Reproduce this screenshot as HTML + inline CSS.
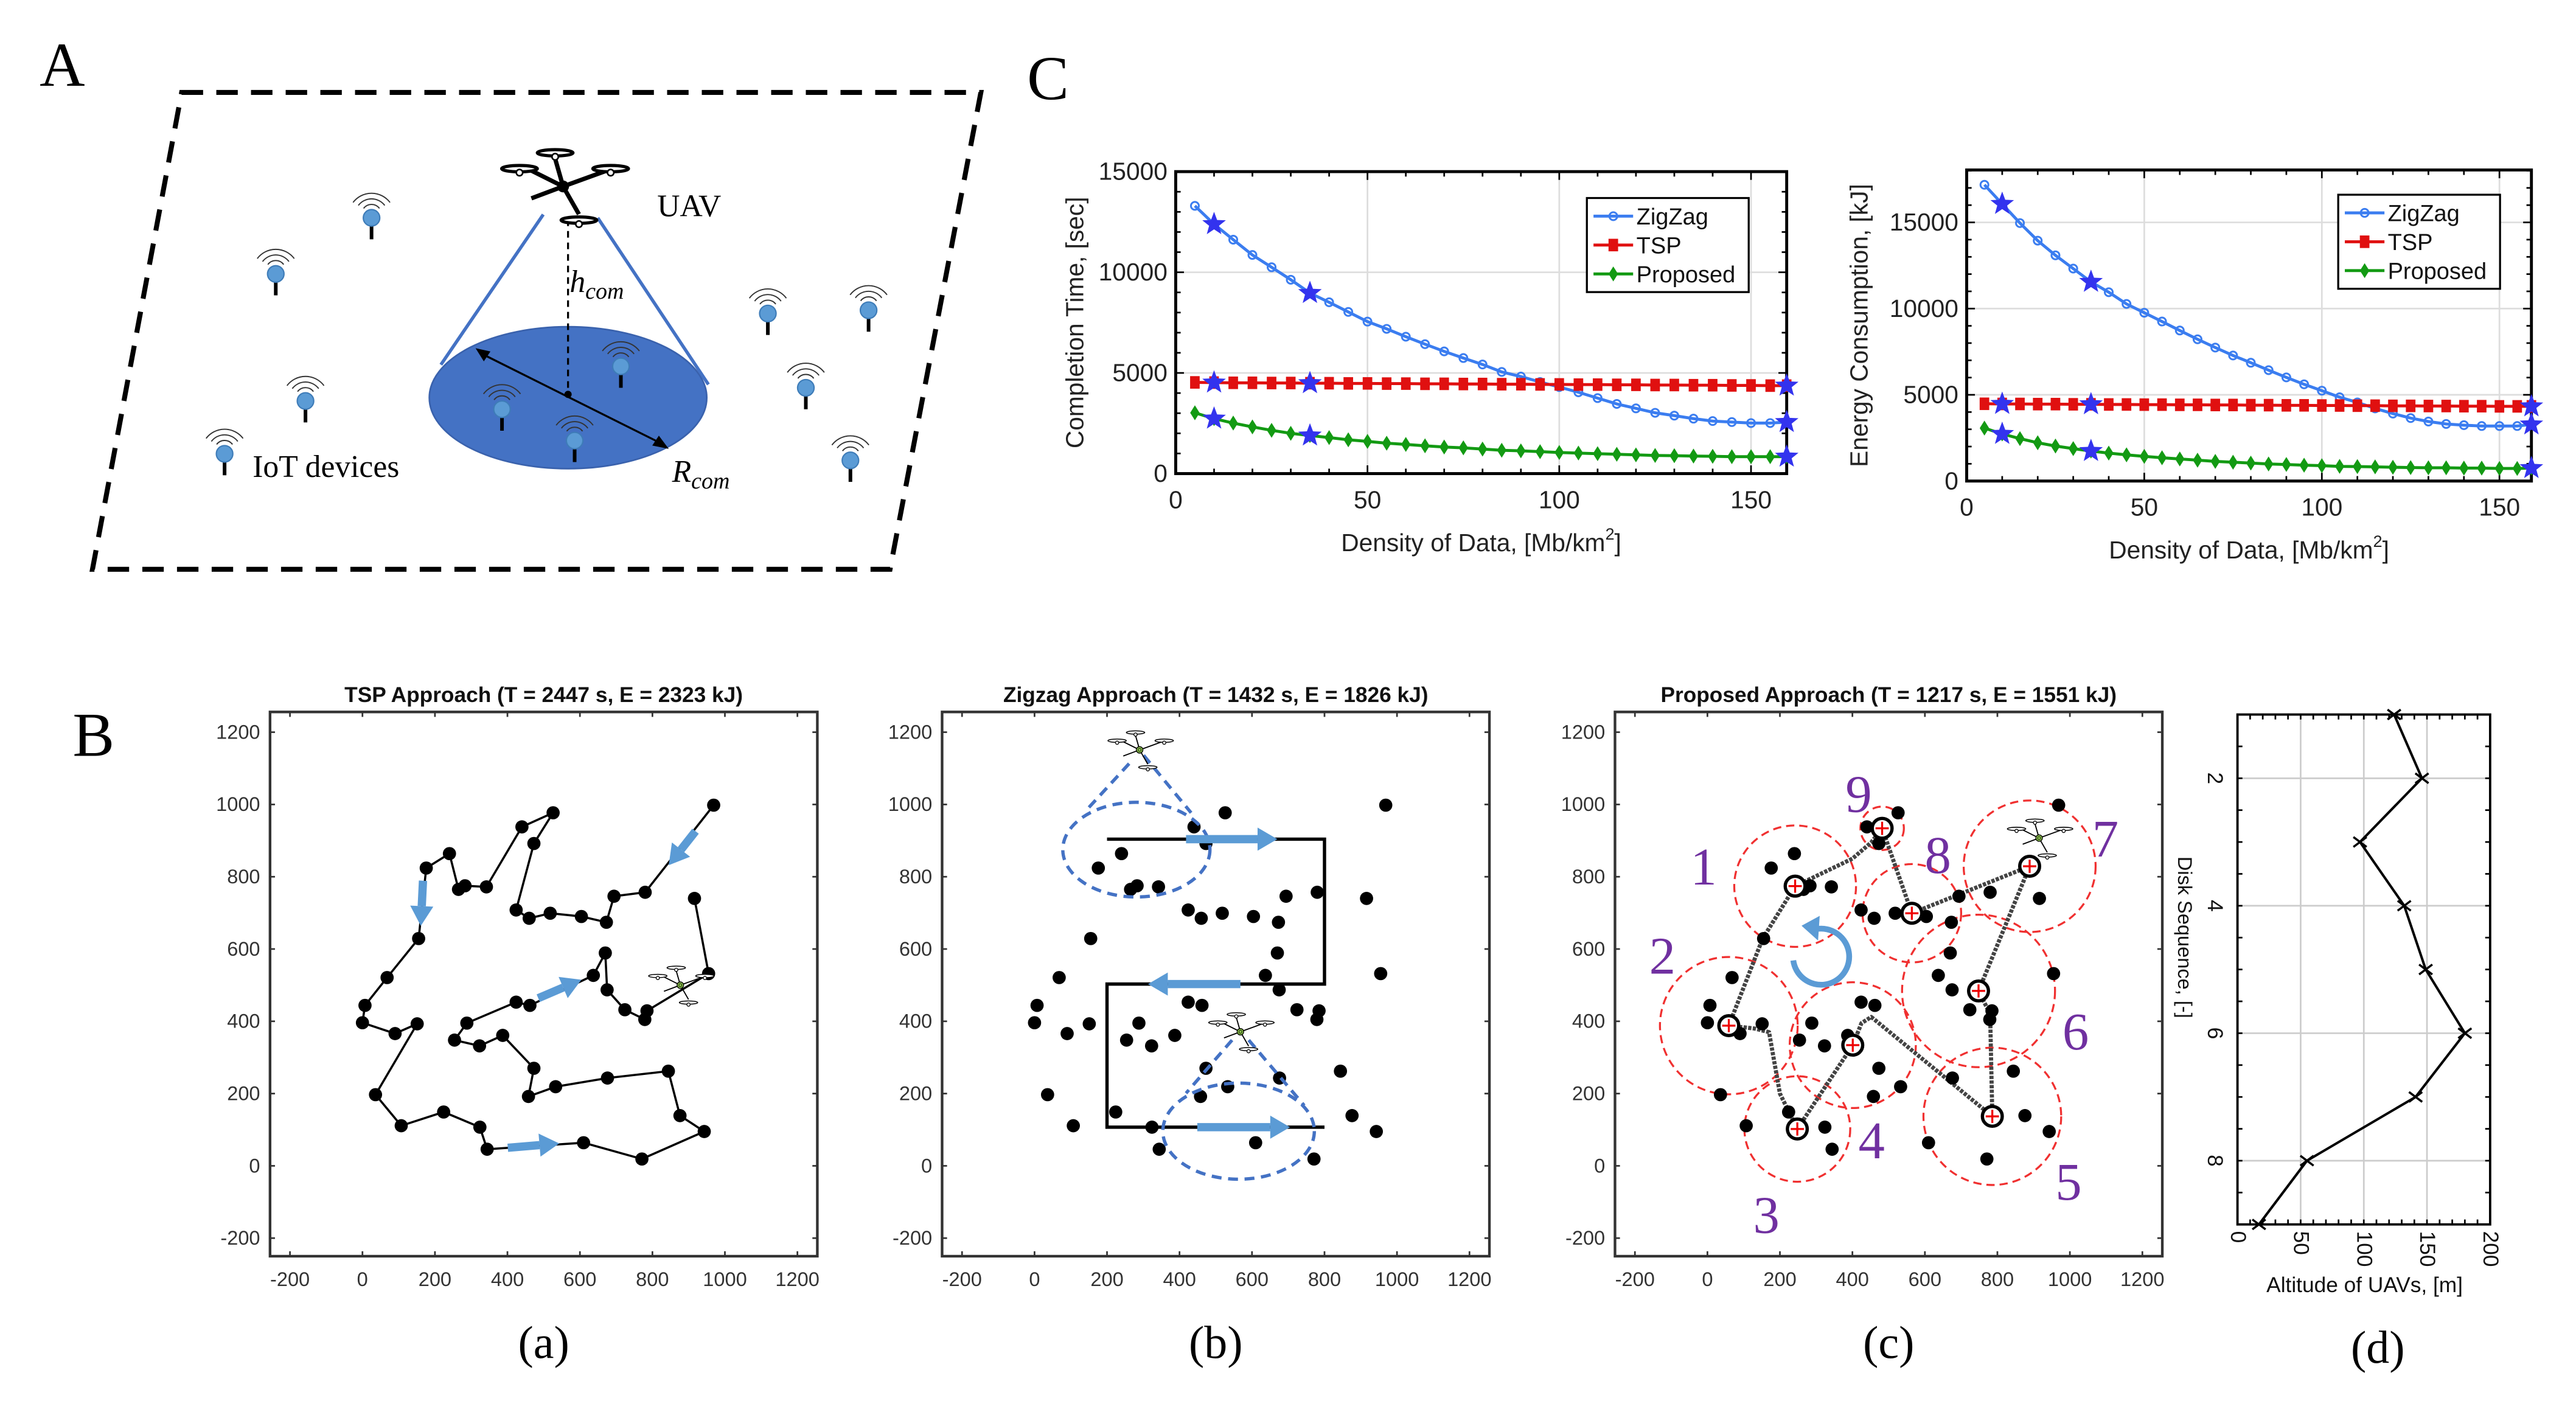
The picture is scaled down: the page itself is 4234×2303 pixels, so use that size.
<!DOCTYPE html>
<html><head><meta charset="utf-8"><style>
html,body{margin:0;padding:0;background:#fff;}
svg{display:block;}
text{font-family:"Liberation Sans",Arial,sans-serif;}
.serif{font-family:"Liberation Serif","Times New Roman",serif;}
</style></head><body>
<svg id="fig" xmlns="http://www.w3.org/2000/svg" width="4234" height="2303" viewBox="0 0 1560 849" preserveAspectRatio="none">
<rect x="0" y="0" width="1560" height="849" fill="#fff"/>
</svg>
<script>
// ---------- Panel C data ----------
const densityX = [5,10,15,20,25,30,35,40,45,50,55,60,65,70,75,80,85,90,95,100,105,110,115,120,125,130,135,140,145,150,155,160];
const timeZigZag = [13300,12390,11620,10860,10250,9630,8970,8510,8030,7550,7190,6800,6430,6070,5740,5420,5050,4820,4550,4300,4040,3750,3460,3240,3020,2880,2730,2610,2560,2510,2510,2560];
const timeTSP = [4530,4520,4510,4510,4500,4500,4490,4490,4480,4480,4470,4470,4460,4460,4450,4450,4440,4440,4430,4430,4420,4420,4410,4410,4400,4400,4390,4390,4380,4380,4370,4370];
const timeProposed = [3020,2730,2510,2320,2150,2000,1890,1790,1680,1600,1510,1450,1380,1320,1280,1220,1160,1130,1090,1050,1020,990,960,930,900,890,870,860,840,840,840,840];
const energyZigZag = [17180,16070,14960,13940,13090,12320,11550,10950,10270,9760,9250,8730,8220,7740,7280,6860,6430,6010,5610,5240,4860,4560,4210,3910,3650,3450,3310,3240,3190,3190,3190,3280];
const energyTSP = [4480,4470,4470,4460,4460,4450,4450,4440,4440,4430,4430,4420,4420,4410,4410,4400,4400,4390,4390,4380,4380,4370,4370,4360,4360,4350,4350,4340,4340,4330,4330,4330];
const energyProposed = [3070,2730,2460,2220,2030,1880,1740,1620,1520,1430,1350,1280,1210,1140,1090,1040,990,960,920,890,850,840,820,800,780,770,770,750,750,730,730,750];
const starIdx = [1,6,31];
const cYTicks = [0,5000,10000,15000];
const cXTicks = [0,50,100,150];
const legendLabels = ['ZigZag','TSP','Proposed'];
// ---------- Panel B data ----------
const nodeX = [969,780,694,673,604,518,460,424,473,526,440,342,283,265,240,176,155,68,7,0,90,151,36,107,224,324,344,610,771,943,876,844,676,533,458,473,387,323,254,288,424,462,637,670,675,724,779,785,955,916];
const nodeY = [998,757,746,674,690,699,685,708,892,977,938,772,775,765,864,824,629,521,444,396,366,393,197,111,149,107,46,64,19,95,139,262,243,219,192,270,361,332,348,395,453,444,527,589,487,432,405,429,532,740];
const bTicks = [-200,0,200,400,600,800,1000,1200];
const zigPathX = [200,800,800,200,200,800];
const zigPathY = [904,904,503,503,107,107];
const diskX = [242,59,248,401,786,748,889,564,482];
const diskY = [774,388,102,334,137,484,829,699,934];
const diskR = [168,190,146,174,190,211,182,136,60];
const propPathX = [242,400,452,482,564,889,748,780,786,452,425,401,248,200,170,130,59,152,242];
const propPathY = [774,850,895,934,699,829,484,420,137,412,395,334,102,200,370,380,388,628,774];
// ---------- Panel d data ----------
const diskSeq = [1,2,3,4,5,6,7,8,9];
const altitude = [124,146,97,132,149,180,141,55,17];
const altTicks = [0,50,100,150,200];
const seqTicks = [2,4,6,8];

const NS='http://www.w3.org/2000/svg';
const svg=document.getElementById('fig');
function mk(tag,attrs,parent){const e=document.createElementNS(NS,tag);for(const k in attrs)e.setAttribute(k,attrs[k]);(parent||svg).appendChild(e);return e;}
function txt(str,attrs,parent){const t=mk('text',attrs,parent);t.textContent=str;return t;}
function starPts(cx,cy,R){let p=[];for(let i=0;i<10;i++){const r=i%2?R*0.42:R;const a=-Math.PI/2+i*Math.PI/5;p.push((cx+r*Math.cos(a)).toFixed(2)+','+(cy+r*Math.sin(a)).toFixed(2));}return p.join(' ');}

function drone(cx,cy,s,parent,name,dark){
  const g=mk('g',{transform:`translate(${cx},${cy}) scale(${s})`},parent);
  
  
  const col='#000';const w=dark?2.2:1.1;
  mk('path',{d:'M-20,-10 L0,0 L22,-8 M0,0 L-4,-14 M0,0 L8,14 M-16,6 L0,0',stroke:col,'stroke-width':w,fill:'none'},g);
  [[-4,-17],[24,-9],[-22,-9],[8,17]].forEach(p=>{mk('ellipse',{cx:p[0],cy:p[1],rx:9,ry:1.6,fill:'#fff',stroke:col,'stroke-width':dark?1.6:0.9},g);mk('circle',{cx:p[0],cy:p[1]+2,r:1.6,fill:'#fff',stroke:col,'stroke-width':0.8},g);});
  if(dark){mk('circle',{cx:0,cy:0,r:3,fill:'#000'},g);}
  else{mk('circle',{cx:0,cy:0,r:3.2,fill:'#8BC34A',stroke:'#000','stroke-width':0.8},g);mk('circle',{cx:0,cy:0,r:1.5,fill:'none',stroke:'#000','stroke-width':0.5},g);}
  return g;
}

// ---------- Panel letters ----------
const la=txt('A',{x:24,y:52,'font-size':38,class:'serif'});


const lb=txt('B',{x:44,y:458,'font-size':38,class:'serif'});


const lc=txt('C',{x:622,y:60,'font-size':38,class:'serif'});



// ---------- Panel A ----------
const gA=mk('g',{});


const para=mk('path',{d:'M110,56 L594,56 L539,345 L56,345 Z',fill:'none',stroke:'#000','stroke-width':3,'stroke-dasharray':'13,8'},gA);


const cov=mk('ellipse',{cx:344,cy:241,rx:84,ry:43,fill:'#4472C4',stroke:'#3a62ad','stroke-width':1},gA);


mk('line',{x1:329,y1:130,x2:267,y2:221,stroke:'#4472C4','stroke-width':2},gA);
mk('line',{x1:362,y1:132,x2:429,y2:233,stroke:'#4472C4','stroke-width':2},gA);
mk('line',{x1:344,y1:133,x2:344,y2:239,stroke:'#000','stroke-width':1.2,'stroke-dasharray':'4,3'},gA);
mk('circle',{cx:344,cy:239,r:2.2,fill:'#000'},gA);
mk('line',{x1:291,y1:214,x2:401,y2:269,stroke:'#000','stroke-width':1.2},gA);
mk('polygon',{points:'288,211 297,213 293,219',fill:'#000'},gA);
mk('polygon',{points:'405,272 395,270 399,264',fill:'#000'},gA);
drone(341,113,1.2,gA,'uav-icon',true);
const tUav=txt('UAV',{x:398,y:131,'font-size':19,class:'serif'},gA);


const th=txt('',{x:345,y:177,'font-size':19,class:'serif','font-style':'italic'},gA);
th.innerHTML='h<tspan font-size="14" dy="4">com</tspan>';


const tr=txt('',{x:407,y:292,'font-size':19,class:'serif','font-style':'italic'},gA);
tr.innerHTML='R<tspan font-size="14" dy="4">com</tspan>';


const tIot=txt('IoT devices',{x:153,y:289,'font-size':19,class:'serif'},gA);


const iotPts=[[225,132],[167,166],[185,243],[136,275],[376,222],[304,248],[348,267],[465,190],[526,188],[488,235],[515,279]];
iotPts.forEach(p=>{
  const g=mk('g',{},gA);
  
  
  [6,10,14].forEach(r=>mk('path',{d:`M${p[0]-r*0.8},${p[1]-r*0.45-3} A${r},${r} 0 0 1 ${p[0]+r*0.8},${p[1]-r*0.45-3}`,fill:'none',stroke:'#333','stroke-width':0.7},g));
  mk('line',{x1:p[0],y1:p[1],x2:p[0],y2:p[1]+13,stroke:'#000','stroke-width':2.2},g);
  mk('circle',{cx:p[0],cy:p[1],r:5,fill:'#5B9BD5',stroke:'#3E7CB8','stroke-width':0.8},g);
});

// ---------- Panel C charts ----------
function lineChart(o){
  const g=mk('g',{});
  
  
  const xs=v=>o.L+(v/o.xmax)*(o.R-o.L);
  const ys=v=>o.B-(v/o.ymax)*(o.B-o.T);
  cXTicks.forEach(v=>{if(v>0)mk('line',{x1:xs(v),y1:o.T,x2:xs(v),y2:o.B,stroke:'#ddd','stroke-width':1},g);});
  cYTicks.forEach(v=>{if(v>0)mk('line',{x1:o.L,y1:ys(v),x2:o.R,y2:ys(v),stroke:'#ddd','stroke-width':1},g);});
  for(let v=0;v<=o.xmax;v+=10){mk('line',{x1:xs(v),y1:o.B,x2:xs(v),y2:o.B-(v%50?3:5),stroke:'#000','stroke-width':1},g);mk('line',{x1:xs(v),y1:o.T,x2:xs(v),y2:o.T+(v%50?3:5),stroke:'#000','stroke-width':1},g);}
  for(let v=0;v<=o.ymax;v+=1000){mk('line',{x1:o.L,y1:ys(v),x2:o.L+(v%5000?3:5),y2:ys(v),stroke:'#000','stroke-width':1},g);mk('line',{x1:o.R,y1:ys(v),x2:o.R-(v%5000?3:5),y2:ys(v),stroke:'#000','stroke-width':1},g);}
  const frame=mk('rect',{x:o.L,y:o.T,width:o.R-o.L,height:o.B-o.T,fill:'none',stroke:'#000','stroke-width':1.8},g);
  
  
  cXTicks.forEach(v=>{const t=txt(String(v),{x:xs(v),y:o.B+21,'font-size':15,'text-anchor':'middle',fill:'#222'},g);
    
    });
  cYTicks.forEach(v=>{const t=txt(String(v),{x:o.L-5,y:ys(v)+5,'font-size':15,'text-anchor':'end',fill:'#222'},g);
    
    });
  const xt=txt('',{x:(o.L+o.R)/2,y:o.B+47,'font-size':15,'text-anchor':'middle',fill:'#222'},g);
  xt.innerHTML='Density of Data, [Mb/km<tspan font-size="10" dy="-7">2</tspan><tspan dy="7">]</tspan>';
  
  
  const yt=txt(o.ytitle,{x:0,y:0,'font-size':15,'text-anchor':'middle',fill:'#222',transform:`translate(${o.ytx},${(o.T+o.B)/2}) rotate(-90)`},g);
  
  
  const cols=['#3B7DF0','#E01010','#139A13'];
  o.series.forEach((s,si)=>{
    const pts=densityX.map((x,i)=>[xs(Math.min(x,o.xmax)),ys(s[i])]);
    const ln=mk('polyline',{points:pts.map(p=>p.join(',')).join(' '),fill:'none',stroke:cols[si],'stroke-width':1.8},g);
    
    
    pts.forEach(p=>{
      let m;
      if(si===0)m=mk('circle',{cx:p[0],cy:p[1],r:2.4,fill:'none',stroke:cols[0],'stroke-width':1.1},g);
      else if(si===1)m=mk('rect',{x:p[0]-2.3,y:p[1]-3.2,width:4.6,height:6.4,fill:cols[1],stroke:cols[1],'stroke-width':1.2},g);
      else m=mk('polygon',{points:`${p[0]},${p[1]-3.5} ${p[0]+2.2},${p[1]} ${p[0]},${p[1]+3.5} ${p[0]-2.2},${p[1]}`,fill:'#139A13',stroke:cols[2],'stroke-width':1.1},g);
      
      
    });
    starIdx.forEach(i=>{const st=mk('polygon',{points:starPts(pts[i][0],pts[i][1],7.5),fill:'#3333EE'},g);
      
      });
  });
  const lg=mk('g',{},g);
  
  
  mk('rect',{x:o.lgx,y:o.lgy,width:98,height:57,fill:'#fff',stroke:'#000','stroke-width':1.2},lg);
  legendLabels.forEach((lab,i)=>{
    const y=o.lgy+11+i*17.5;
    mk('line',{x1:o.lgx+4,y1:y,x2:o.lgx+28,y2:y,stroke:cols[i],'stroke-width':1.8},lg);
    if(i===0)mk('circle',{cx:o.lgx+16,cy:y,r:2.4,fill:'none',stroke:cols[0],'stroke-width':1.1},lg);
    else if(i===1)mk('rect',{x:o.lgx+13.7,y:y-3.2,width:4.6,height:6.4,fill:cols[1],stroke:cols[1],'stroke-width':1.2},lg);
    else mk('polygon',{points:`${o.lgx+16},${y-3.5} ${o.lgx+18.2},${y} ${o.lgx+16},${y+3.5} ${o.lgx+13.8},${y}`,fill:'#139A13',stroke:cols[2],'stroke-width':1.1},lg);
    const t=txt(lab,{x:o.lgx+30,y:y+5,'font-size':14,fill:'#111'},lg);
    
    
  });
}
lineChart({name:'completion-time-chart',L:712,R:1082,T:104,B:287,xmax:159.3,ymax:15000,ytitle:'Completion Time, [sec]',ytx:656,lgx:961,lgy:120,series:[timeZigZag,timeTSP,timeProposed]});
lineChart({name:'energy-consumption-chart',L:1191,R:1533,T:103,B:291.5,xmax:159,ymax:18040,ytitle:'Energy Consumption, [kJ]',ytx:1131,lgx:1416,lgy:118,series:[energyZigZag,energyTSP,energyProposed]});

// ---------- Panel B scatter plots ----------
function scatterPanel(o){
  const g=mk('g',{});
  
  
  const xs=v=>o.x0+v*0.2195;
  const ys=v=>706.5-v*0.219;
  const L=xs(-255),R=xs(1255),T=ys(1256),B=ys(-250);
  bTicks.forEach(v=>{
    mk('line',{x1:xs(v),y1:B,x2:xs(v),y2:B-3,stroke:'#333','stroke-width':1},g);
    mk('line',{x1:xs(v),y1:T,x2:xs(v),y2:T+3,stroke:'#333','stroke-width':1},g);
    mk('line',{x1:L,y1:ys(v),x2:L+3,y2:ys(v),stroke:'#333','stroke-width':1},g);
    mk('line',{x1:R,y1:ys(v),x2:R-3,y2:ys(v),stroke:'#333','stroke-width':1},g);
    const tx=txt(String(v),{x:xs(v),y:B+18,'font-size':12,'text-anchor':'middle',fill:'#333'},g);
    
    
    const ty=txt(String(v),{x:L-6,y:ys(v)+4,'font-size':12,'text-anchor':'end',fill:'#333'},g);
    
    
  });
  const fr=mk('rect',{x:L,y:T,width:R-L,height:B-T,fill:'none',stroke:'#333','stroke-width':1.6},g);
  
  
  const ti=txt(o.title,{x:(L+R)/2,y:T-6,'font-size':13,'font-weight':'bold','text-anchor':'middle',fill:'#111'},g);
  
  
  const lab=txt(o.label,{x:(L+R)/2,y:823,'font-size':28,'text-anchor':'middle',class:'serif'},g);
  
  
  o.draw(g,xs,ys);
  return g;
}
function dots(g,xs,ys){nodeX.forEach((x,i)=>{const c=mk('circle',{cx:xs(x),cy:ys(nodeY[i]),r:4,fill:'#000'},g);
  
  });}
function blueArrow(g,x1,y1,x2,y2,name){
  const dx=x2-x1,dy=y2-y1,len=Math.hypot(dx,dy),ux=dx/len,uy=dy/len;
  const hx=x2-ux*12,hy=y2-uy*12;
  const a=mk('g',{},g);
  
  
  mk('line',{x1:x1,y1:y1,x2:hx,y2:hy,stroke:'#5B9BD5','stroke-width':5},a);
  mk('polygon',{points:`${x2},${y2} ${hx-uy*7},${hy+ux*7} ${hx+uy*7},${hy-ux*7}`,fill:'#5B9BD5'},a);
}
scatterPanel({name:'tsp-approach-plot',x0:219.5,title:'TSP Approach (T = 2447 s, E = 2323 kJ)',label:'(a)',draw:(g,xs,ys)=>{
  const p=mk('polyline',{points:nodeX.map((x,i)=>xs(x)+','+ys(nodeY[i])).join(' '),fill:'none',stroke:'#000','stroke-width':1.3},g);
  
  
  dots(g,xs,ys);
  blueArrow(g,xs(919),ys(926),xs(845),ys(832),'direction-arrow');
  blueArrow(g,xs(167),ys(789),xs(161),ys(664),'direction-arrow');
  blueArrow(g,xs(485),ys(464),xs(604),ys(515),'direction-arrow');
  blueArrow(g,xs(401),ys(50),xs(543),ys(62),'direction-arrow');
  drone(xs(877),ys(500),0.62,g,'uav-icon',false);
}});
scatterPanel({name:'zigzag-approach-plot',x0:626.5,title:'Zigzag Approach (T = 1432 s, E = 1826 kJ)',label:'(b)',draw:(g,xs,ys)=>{
  const p=mk('polyline',{points:zigPathX.map((x,i)=>xs(x)+','+ys(zigPathY[i])).join(' '),fill:'none',stroke:'#000','stroke-width':2},g);
  
  
  dots(g,xs,ys);
  const dsh={fill:'none',stroke:'#4472C4','stroke-width':2,'stroke-dasharray':'6,4'};
  mk('ellipse',Object.assign({cx:xs(281),cy:ys(875),rx:203*0.2195,ry:131*0.219},dsh),g);
  mk('ellipse',Object.assign({cx:xs(563),cy:ys(96),rx:209*0.2195,ry:133*0.219},dsh),g);
  mk('line',Object.assign({x1:xs(261),y1:ys(1113),x2:xs(142),y2:ys(983)},dsh),g);
  mk('line',Object.assign({x1:xs(301),y1:ys(1136),x2:xs(432),y2:ys(977)},dsh),g);
  mk('line',Object.assign({x1:xs(545),y1:ys(348),x2:xs(418),y2:ys(201)},dsh),g);
  mk('line',Object.assign({x1:xs(591),y1:ys(348),x2:xs(744),y2:ys(167)},dsh),g);
  blueArrow(g,xs(418),ys(904),xs(670),ys(904),'direction-arrow');
  blueArrow(g,xs(568),ys(503),xs(313),ys(503),'direction-arrow');
  blueArrow(g,xs(449),ys(107),xs(705),ys(107),'direction-arrow');
  drone(xs(290),ys(1151),0.62,g,'uav-icon',false);
  drone(xs(568),ys(371),0.62,g,'uav-icon',false);
}});
scatterPanel({name:'proposed-approach-plot',x0:1034,title:'Proposed Approach (T = 1217 s, E = 1551 kJ)',label:'(c)',draw:(g,xs,ys)=>{
  diskX.forEach((x,i)=>{const c=mk('ellipse',{cx:xs(x),cy:ys(diskY[i]),rx:diskR[i]*0.2195,ry:diskR[i]*0.219,fill:'none',stroke:'#F03030','stroke-width':1.2,'stroke-dasharray':'5,3'},g);
    
    });
  const p=mk('polyline',{points:propPathX.map((x,i)=>xs(x)+','+ys(propPathY[i])).join(' '),fill:'none',stroke:'#444','stroke-width':2.5,'stroke-dasharray':'2,0.8','stroke-linejoin':'round'},g);
  
  
  dots(g,xs,ys);
  diskX.forEach((x,i)=>{
    const cx=xs(x),cy=ys(diskY[i]);
    const c=mk('circle',{cx:cx,cy:cy,r:6,fill:'#fff',stroke:'#000','stroke-width':2},g);
    
    
    mk('path',{d:`M${cx-4},${cy} H${cx+4} M${cx},${cy-4} V${cy+4}`,stroke:'#E00','stroke-width':1.2},g);
  });
  const numPos=[[1031.7,525],[1006.7,579],[1069.7,736],[1133.4,691],[1252.7,716],[1257,625],[1275,508],[1173.6,518],[1125.6,481]];
  numPos.forEach((p,i)=>{const t=txt(String(diskSeq[i]),{x:p[0],y:p[1]+11,'font-size':32,'text-anchor':'middle',fill:'#7030A0',class:'serif'},g);
    
    });
  const ca=mk('path',{d:'M1100,563 A17,17 0 1 1 1086,582',fill:'none',stroke:'#5B9BD5','stroke-width':3.5},g);
  
  
  mk('polygon',{points:'1091,561 1102,555 1101,570',fill:'#5B9BD5'},g);
  drone(xs(915),ys(907),0.62,g,'uav-icon',false);
}});

// ---------- Panel d ----------
(function(){
  const g=mk('g',{});
  
  
  const L=1355,R=1508,T=433,B=742;
  const xs=v=>L+v/200*(R-L);
  const ys=v=>T+(v-1)/8*(B-T);
  [50,100,150].forEach(v=>mk('line',{x1:xs(v),y1:T,x2:xs(v),y2:B,stroke:'#ccc','stroke-width':1},g));
  seqTicks.forEach(v=>mk('line',{x1:L,y1:ys(v),x2:R,y2:ys(v),stroke:'#ccc','stroke-width':1},g));
  for(let v=0;v<=200;v+=10){mk('line',{x1:xs(v),y1:B,x2:xs(v),y2:B-3,stroke:'#000','stroke-width':1},g);mk('line',{x1:xs(v),y1:T,x2:xs(v),y2:T+3,stroke:'#000','stroke-width':1},g);}
  for(let v=1;v<=9;v+=0.5){mk('line',{x1:L,y1:ys(v),x2:L+3,y2:ys(v),stroke:'#000','stroke-width':1},g);mk('line',{x1:R,y1:ys(v),x2:R-3,y2:ys(v),stroke:'#000','stroke-width':1},g);}
  const fr=mk('rect',{x:L,y:T,width:R-L,height:B-T,fill:'none',stroke:'#000','stroke-width':1.4},g);
  
  
  altTicks.forEach(v=>{const t=txt(String(v),{x:0,y:0,'font-size':13,'text-anchor':'start',fill:'#111',transform:`translate(${xs(v)-4},${B+4}) rotate(90)`},g);
    
    });
  seqTicks.forEach(v=>{const t=txt(String(v),{x:0,y:0,'font-size':13,'text-anchor':'middle',fill:'#111',transform:`translate(${L-18},${ys(v)}) rotate(90)`},g);
    
    });
  const yt=txt('Disk Sequence, [-]',{x:0,y:0,'font-size':12,'text-anchor':'middle',fill:'#111',transform:`translate(${L-36},568) rotate(90)`},g);
  
  
  const xt=txt('Altitude of UAVs, [m]',{x:1432,y:783,'font-size':13,'text-anchor':'middle',fill:'#111'},g);
  
  
  const ln=mk('polyline',{points:diskSeq.map((s,i)=>xs(altitude[i])+','+ys(s)).join(' '),fill:'none',stroke:'#000','stroke-width':1.5},g);
  
  
  diskSeq.forEach((s,i)=>{const x=xs(altitude[i]),y=ys(s);
    const m=mk('path',{d:`M${x-4},${y-3} L${x+4},${y+3} M${x-4},${y+3} L${x+4},${y-3}`,stroke:'#000','stroke-width':1.3},g);
    
    });
  const lab=txt('(d)',{x:1440,y:826,'font-size':28,'text-anchor':'middle',class:'serif'},g);
  
  
})();
</script>
</body></html>
